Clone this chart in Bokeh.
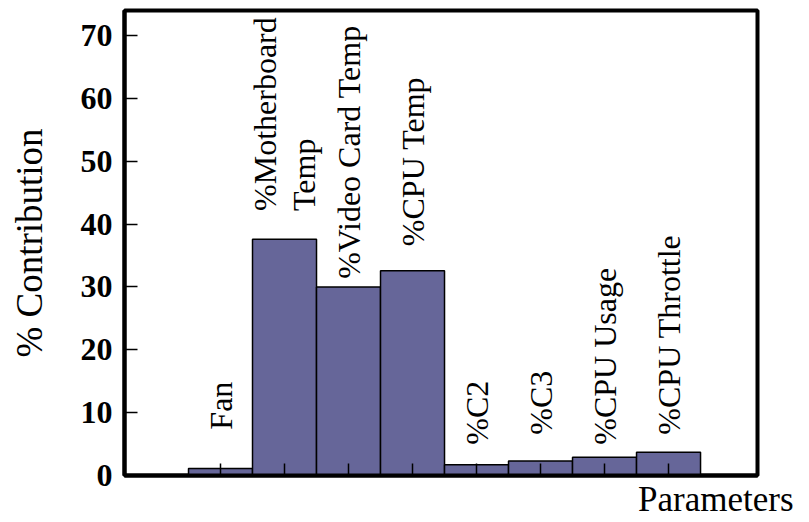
import math
from bokeh.plotting import figure
from bokeh.models import FixedTicker, Range1d, ColumnDataSource, Title
from bokeh.core.properties import value
from bokeh.embed import file_html
from bokeh.resources import INLINE

# ---- data ----
params = ["Fan", "%Motherboard\nTemp", "%Video Card Temp", "%CPU Temp",
          "%C2", "%C3", "%CPU Usage", "%CPU Throttle"]
contrib = [1.1, 37.6, 30.0, 32.6, 1.7, 2.3, 2.9, 3.7]
label_y = [7.3, 42.1, 31.3, 36.5, 4.9, 6.5, 4.9, 6.5]
y_ticks = [0, 10, 20, 30, 40, 50, 60, 70]

xs = [i + 1.5 for i in range(len(params))]
src = ColumnDataSource(dict(x=xs, top=contrib, ly=label_y, name=params))

FONT = "Liberation Serif"

p = figure(width=805, height=521,
           x_range=Range1d(0, 9.89), y_range=Range1d(0, 74),
           output_backend="svg", toolbar_location=None,
           min_border_left=124, min_border_right=48,
           min_border_top=10, min_border_bottom=46)

p.background_fill_color = "white"
p.border_fill_color = "white"
p.outline_line_color = "black"
p.outline_line_width = 4
p.xgrid.visible = False
p.ygrid.visible = False

p.vbar(x="x", top="top", bottom=0, width=1.0, source=src,
       fill_color="#666699", line_color="black", line_width=1.5)

p.text(x="x", y="ly", text="name", source=src, angle=math.pi / 2,
       text_align="left", text_baseline="middle",
       text_font=value(FONT), text_font_size="32px", text_color="black",
       text_line_height=1.1)

# x axis
xa = p.xaxis[0]
xa.ticker = FixedTicker(ticks=xs)
xa.major_label_overrides = {x: "" for x in xs}
xa.major_label_standoff = 0
xa.major_tick_in = 12
xa.major_tick_out = 0
xa.minor_tick_line_color = None
xa.axis_line_width = 4
xa.axis_line_color = "black"
xa.major_tick_line_width = 1.5
xa.major_tick_line_color = "black"

# y axis
ya = p.yaxis[0]
ya.ticker = FixedTicker(ticks=y_ticks)
ya.major_tick_in = 13
ya.major_tick_out = 0
ya.minor_tick_line_color = None
ya.axis_line_width = 4
ya.axis_line_color = "black"
ya.major_tick_line_width = 1.5
ya.major_tick_line_color = "black"
ya.major_label_text_font = FONT
ya.major_label_text_font_style = "bold"
ya.major_label_text_font_size = "32px"
ya.major_label_text_color = "black"
ya.major_label_standoff = 12
ya.axis_label = "% Contribution"
ya.axis_label_text_font = FONT
ya.axis_label_text_font_style = "normal"
ya.axis_label_text_font_size = "37px"
ya.axis_label_text_color = "black"
ya.axis_label_standoff = 28

p.add_layout(Title(text="Parameters", align="right", offset=-36,
                   text_font=FONT, text_font_size="35px",
                   text_font_style="normal", text_color="black",
                   standoff=5), "below")

open("out.html", "w").write(file_html(p, INLINE))
